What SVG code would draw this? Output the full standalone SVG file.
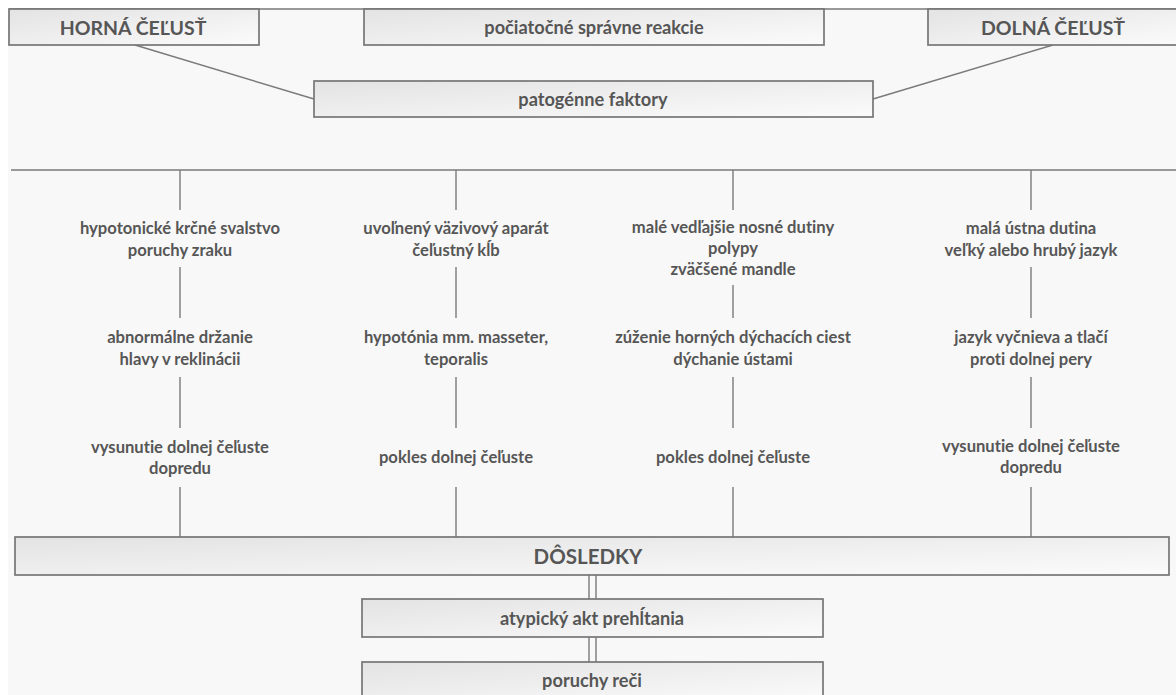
<svg xmlns="http://www.w3.org/2000/svg" width="1176" height="695" viewBox="0 0 1176 695">
<defs>
<linearGradient id="g" x1="0" y1="0" x2="1" y2="1">
<stop offset="0" stop-color="#e3e3e3"/>
<stop offset="1" stop-color="#fbfbfb"/>
</linearGradient>
<style>
.box{fill:url(#g);stroke:#767676;stroke-width:1.7}
.ln{stroke:#7a7a7a;stroke-width:1.4;fill:none}
text{font-family:Lato,"Open Sans","Liberation Sans",sans-serif;font-weight:700;fill:#565656;text-anchor:middle;dominant-baseline:central;font-variant-ligatures:none}
.t1{font-size:19.5px}
.t2{font-size:18.2px}
.t3{font-size:16.6px}
.t4{font-size:20.5px}
</style>
</defs>
<rect width="1176" height="695" fill="#ffffff"/>
<rect x="8" y="8" width="1168" height="687" fill="#f8f8f8"/>
<g id="connectors">
<line class="ln" x1="9" y1="9" x2="1176" y2="9"/>
<line class="ln" x1="135" y1="45" x2="314" y2="99"/>
<line class="ln" x1="873" y1="99" x2="1053" y2="45"/>
<line class="ln" x1="11" y1="170" x2="1176" y2="170"/>
<line class="ln" x1="180" y1="170" x2="180" y2="210"/>
<line class="ln" x1="456" y1="170" x2="456" y2="210"/>
<line class="ln" x1="733" y1="170" x2="733" y2="210"/>
<line class="ln" x1="1031" y1="170" x2="1031" y2="210"/>
<line class="ln" x1="180" y1="267" x2="180" y2="318"/>
<line class="ln" x1="456" y1="267" x2="456" y2="318"/>
<line class="ln" x1="733" y1="285" x2="733" y2="318"/>
<line class="ln" x1="1031" y1="267" x2="1031" y2="318"/>
<line class="ln" x1="180" y1="377" x2="180" y2="428"/>
<line class="ln" x1="456" y1="377" x2="456" y2="428"/>
<line class="ln" x1="733" y1="377" x2="733" y2="428"/>
<line class="ln" x1="1031" y1="377" x2="1031" y2="428"/>
<line class="ln" x1="180" y1="487" x2="180" y2="537"/>
<line class="ln" x1="456" y1="487" x2="456" y2="537"/>
<line class="ln" x1="733" y1="487" x2="733" y2="537"/>
<line class="ln" x1="1031" y1="487" x2="1031" y2="537"/>
<line class="ln" x1="589" y1="575" x2="589" y2="599"/>
<line class="ln" x1="596" y1="575" x2="596" y2="599"/>
<line class="ln" x1="589" y1="637" x2="589" y2="662"/>
<line class="ln" x1="596" y1="637" x2="596" y2="662"/>
</g>
<g id="horna"><rect class="box" x="9" y="9" width="250" height="36"/><text class="t1" x="133" y="27">HORNÁ ČEĽUSŤ</text></g>
<g id="pociatocne"><rect class="box" x="364" y="9" width="460" height="36"/><text class="t2" x="594" y="27">počiatočné správne reakcie</text></g>
<g id="dolna"><rect class="box" x="928" y="9" width="260" height="36"/><text class="t1" x="1053" y="27">DOLNÁ ČEĽUSŤ</text></g>
<g id="patogenne"><rect class="box" x="314" y="81" width="559" height="36"/><text class="t2" x="593" y="99">patogénne faktory</text></g>
<g id="c1r1"><text class="t3" x="180" y="228">hypotonické krčné svalstvo</text><text class="t3" x="180" y="250">poruchy zraku</text></g>
<g id="c2r1"><text class="t3" x="456" y="228">uvoľnený väzivový aparát</text><text class="t3" x="456" y="250">čeľustný kĺb</text></g>
<g id="c3r1"><text class="t3" x="733" y="227">malé vedľajšie nosné dutiny</text><text class="t3" x="733" y="248">polypy</text><text class="t3" x="733" y="269">zväčšené mandle</text></g>
<g id="c4r1"><text class="t3" x="1031" y="228">malá ústna dutina</text><text class="t3" x="1031" y="250">veľký alebo hrubý jazyk</text></g>
<g id="c1r2"><text class="t3" x="180" y="337">abnormálne držanie</text><text class="t3" x="180" y="359">hlavy v reklinácii</text></g>
<g id="c2r2"><text class="t3" x="456" y="337">hypotónia mm. masseter,</text><text class="t3" x="456" y="359">teporalis</text></g>
<g id="c3r2"><text class="t3" x="733" y="337">zúženie horných dýchacích ciest</text><text class="t3" x="733" y="359">dýchanie ústami</text></g>
<g id="c4r2"><text class="t3" x="1031" y="337">jazyk vyčnieva a tlačí</text><text class="t3" x="1031" y="359">proti dolnej pery</text></g>
<g id="c1r3"><text class="t3" x="180" y="447">vysunutie dolnej čeľuste</text><text class="t3" x="180" y="468">dopredu</text></g>
<g id="c2r3"><text class="t3" x="456" y="457">pokles dolnej čeľuste</text></g>
<g id="c3r3"><text class="t3" x="733" y="457">pokles dolnej čeľuste</text></g>
<g id="c4r3"><text class="t3" x="1031" y="446">vysunutie dolnej čeľuste</text><text class="t3" x="1031" y="467">dopredu</text></g>
<g id="dosledky"><rect class="box" x="15" y="537" width="1154" height="38"/><text class="t4" x="588" y="556">DÔSLEDKY</text></g>
<g id="atypicky"><rect class="box" x="362" y="599" width="461" height="38"/><text class="t2" x="592" y="618">atypický akt prehĺtania</text></g>
<g id="poruchy"><rect class="box" x="362" y="662" width="461" height="40"/><text class="t2" x="592" y="680">poruchy reči</text></g>
</svg>
